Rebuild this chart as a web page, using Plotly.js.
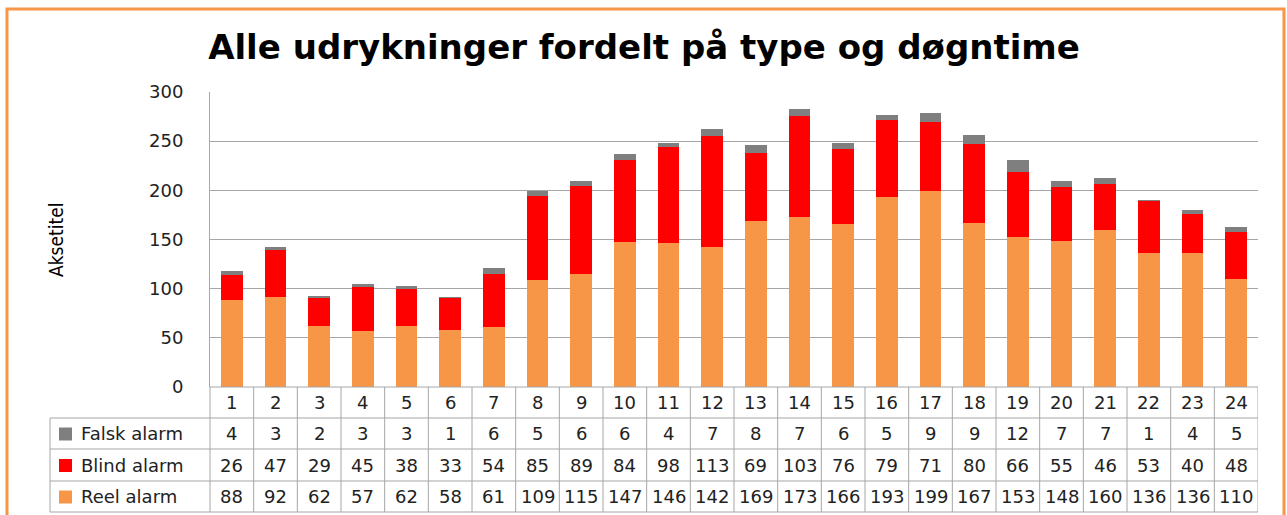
<!DOCTYPE html>
<html>
<head>
<meta charset="utf-8">
<script src="https://cdn.plot.ly/plotly-3.0.1.min.js"></script>
<style>html,body{margin:0;padding:0;background:#fff;}#chart{width:1287px;height:515px;}</style>
</head>
<body>
<div id="chart"></div>
<script>
const hours = [1,2,3,4,5,6,7,8,9,10,11,12,13,14,15,16,17,18,19,20,21,22,23,24];
const falskAlarm = [4,3,2,3,3,1,6,5,6,6,4,7,8,7,6,5,9,9,12,7,7,1,4,5];
const blindAlarm = [26,47,29,45,38,33,54,85,89,84,98,113,69,103,76,79,71,80,66,55,46,53,40,48];
const reelAlarm = [88,92,62,57,62,58,61,109,115,147,146,142,169,173,166,193,199,167,153,148,160,136,136,110];
const seriesNames = ['Falsk alarm','Blind alarm','Reel alarm'];
const yTicks = [0,50,100,150,200,250,300];

const W = 1287, H = 515, L = 210, R = 29, T = 92, B = 128;
const PW = W - L - R, PH = H - T - B;
const px = v => (v - L) / PW;
const py = v => (H - B - v) / PH;
const FONT = 'DejaVu Sans, sans-serif';
const colors = {falsk:'#7F7F7F', blind:'#FF0000', reel:'#F79646'};
const gridCol = '#A6A6A6';

const traces = [
  {type:'bar', x:hours, y:reelAlarm, name:seriesNames[2], marker:{color:colors.reel}},
  {type:'bar', x:hours, y:blindAlarm, name:seriesNames[1], marker:{color:colors.blind}},
  {type:'bar', x:hours, y:falskAlarm, name:seriesNames[0], marker:{color:colors.falsk}}
];

const rowCenters = [402.5, 433.5, 465, 496.5];
const rowLines = [418, 449, 481, 512];
const shapes = [];
const annotations = [];

// table borders
shapes.push({type:'line', xref:'paper', yref:'paper', x0:0, x1:1, y0:py(387), y1:py(387), line:{color:gridCol, width:1}});
rowLines.forEach(y => shapes.push({type:'line', xref:'paper', yref:'paper', x0:px(50), x1:1, y0:py(y), y1:py(y), line:{color:gridCol, width:1}}));
shapes.push({type:'line', xref:'paper', yref:'paper', x0:px(50), x1:px(50), y0:py(418), y1:py(512), line:{color:gridCol, width:1}});
shapes.push({type:'line', xref:'paper', yref:'paper', x0:0, x1:0, y0:py(387), y1:py(512), line:{color:gridCol, width:1}});
hours.forEach(h => shapes.push({type:'line', xref:'x', yref:'paper', x0:h+0.5, x1:h+0.5, y0:py(387), y1:py(512), line:{color:gridCol, width:1}}));

// legend keys in table
const keyColors = [colors.falsk, colors.blind, colors.reel];
keyColors.forEach((c, i) => {
  const cy = rowCenters[i+1];
  shapes.push({type:'rect', xref:'paper', yref:'paper', x0:px(59), x1:px(72), y0:py(cy-6), y1:py(cy+7), fillcolor:c, line:{width:0}});
  annotations.push({xref:'paper', yref:'paper', x:px(79), y:py(cy), xanchor:'left', yanchor:'middle', showarrow:false, text:seriesNames[i], font:{family:FONT, size:18, color:'#222'}});
});

// table values
const rows = [hours, falskAlarm, blindAlarm, reelAlarm];
rows.forEach((arr, r) => {
  arr.forEach((v, i) => {
    annotations.push({xref:'x', yref:'paper', x:hours[i], y:py(rowCenters[r]), xanchor:'center', yanchor:'middle', showarrow:false, text:String(v), font:{family:FONT, size:18, color:'#222'}});
  });
});

// axis title
annotations.push({xref:'paper', yref:'paper', x:px(56), y:py(240), xanchor:'center', yanchor:'middle', showarrow:false, textangle:-90, text:'Aksetitel', font:{family:'DejaVu Sans Condensed, DejaVu Sans, sans-serif', size:19, color:'#000'}});

// outer frame
shapes.push({type:'rect', xref:'paper', yref:'paper', x0:px(7), x1:px(1284), y0:py(9), y1:py(530), line:{color:'#F79646', width:3}, fillcolor:'rgba(0,0,0,0)'});

const layout = {
  width:W, height:H,
  margin:{l:L, r:R, t:T, b:B},
  paper_bgcolor:'#fff', plot_bgcolor:'#fff',
  barmode:'stack', bargap:0.5,
  showlegend:false,
  title:{text:'<b>Alle udrykninger fordelt på type og døgntime</b>', x:644/W, xref:'container', xanchor:'center', y:1-47/H, yref:'container', yanchor:'middle', font:{family:FONT, size:34, color:'#000'}},
  xaxis:{range:[0.5,24.5], showticklabels:false, ticks:'', showgrid:false, zeroline:false, showline:false, fixedrange:true},
  yaxis:{range:[0,300], tickvals:yTicks, ticktext:yTicks.map(String), showgrid:true, gridcolor:gridCol, gridwidth:1, zeroline:false, showline:true, linecolor:gridCol, linewidth:1, ticks:'', ticklabelstandoff:22, tickfont:{family:FONT, size:18, color:'#222'}},
  shapes:shapes,
  annotations:annotations
};

Plotly.newPlot('chart', traces, layout, {displayModeBar:false, staticPlot:true});
</script>
</body>
</html>
